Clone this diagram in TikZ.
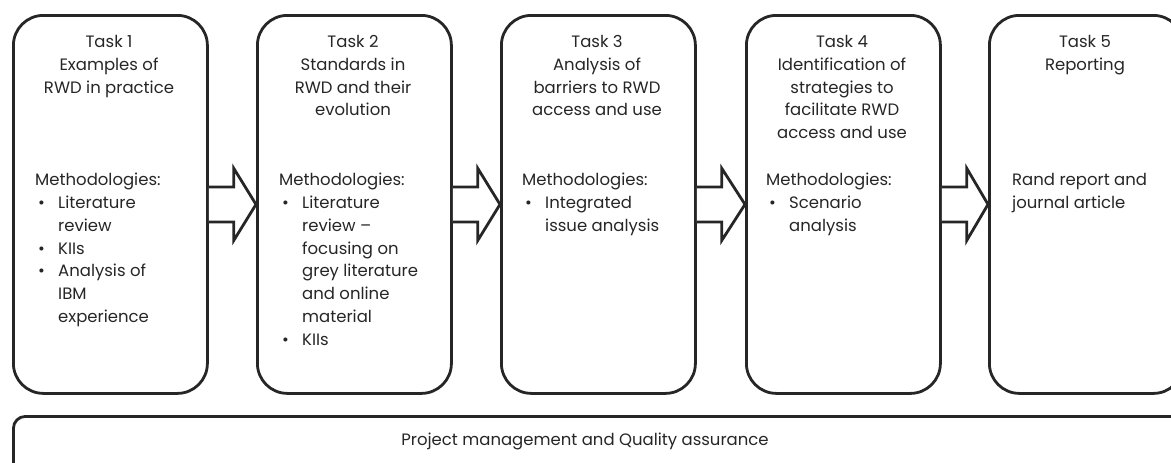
\documentclass[tikz,border=0pt]{standalone}
\usepackage{fontspec}
\setmainfont{Poppins}
\usetikzlibrary{calc}
\newcommand\bul{\makebox[23pt][l]{\hspace{3pt}\textbullet}}
\newcommand\ind{\hspace*{23pt}}
\begin{document}
\begin{tikzpicture}[x=1pt,y=-1pt,
  taskbox/.style={draw=black!85, line width=2.8pt, rounded corners=30pt, minimum width=194pt, minimum height=378pt, anchor=north west, inner sep=0pt},
  txt/.style={inner sep=0pt, text=black!85, font=\fontsize{16.5}{22.8}\selectfont},
  ttl/.style={txt, align=center, anchor=north},
  meth/.style={txt, align=left, anchor=north west},
  blk/.style={draw=black!85, line width=2.8pt, fill=white, line join=miter}]
\useasboundingbox (0,0) rectangle (1171,463);
\clip (0,0) rectangle (1171,463);
\node[taskbox] (t1) at (12,14) {};
\node[taskbox] (t2) at (256,14) {};
\node[taskbox] (t3) at (500,14) {};
\node[taskbox] (t4) at (745,14) {};
\node[taskbox] (t5) at (988,14) {};
\node[taskbox, minimum width=1180pt, minimum height=120pt, rounded corners=12pt] (pm) at (12,415) {};
\foreach \a/\b in {t1/t2, t2/t3, t3/t4, t4/t5}{
  \draw[blk] ($(\a.east)+(0,-17.5)$) -- ($(\a.east)+(25,-17.5)$) -- ($(\a.east)+(25,-36)$) -- (\b.west)
    -- ($(\a.east)+(25,36)$) -- ($(\a.east)+(25,17.5)$) -- ($(\a.east)+(0,17.5)$);
}
\node[ttl] (h1) at (109,35) {Task 1\\Examples of\\RWD in practice};
\node[ttl] (h2) at (353,35) {Task 2\\Standards in\\RWD and their\\evolution};
\node[ttl] (h3) at (597,35) {Task 3\\Analysis of\\barriers to RWD\\access and use};
\node[ttl] (h4) at (842,35) {Task 4\\Identification of\\strategies to\\facilitate RWD\\access and use};
\node[ttl] (h5) at (1085,35) {Task 5\\Reporting};
\node[meth] (m1) at (35,173) {Methodologies:\\\bul Literature\\\ind review\\\bul KIIs\\\bul Analysis of\\\ind IBM\\\ind experience};
\node[meth] (m2) at (279,173) {Methodologies:\\\bul Literature\\\ind review --\\\ind focusing on\\\ind grey literature\\\ind and online\\\ind material\\\bul KIIs};
\node[meth] (m3) at (522,173) {Methodologies:\\\bul Integrated\\\ind issue analysis};
\node[meth] (m4) at (766,173) {Methodologies:\\\bul Scenario\\\ind analysis};
\node[meth] (m5) at (1012,173) {Rand report and\\journal article};
\node[txt] (pmt) at (585,441) {Project management and Quality assurance};
\end{tikzpicture}
\end{document}
